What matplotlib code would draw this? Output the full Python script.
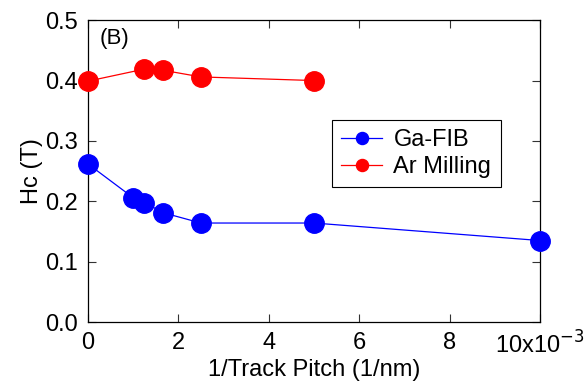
import matplotlib
matplotlib.use('Agg')
import matplotlib.pyplot as plt

plt.rcParams['font.family'] = ['Liberation Sans', 'DejaVu Sans']

# data
ga_x = [0, 1/1000, 1/800, 1/600, 1/400, 1/200, 1/100]
ga_hc = [0.262, 0.206, 0.198, 0.181, 0.164, 0.164, 0.135]
ar_x = [0, 1/800, 1/600, 1/400, 1/200]
ar_hc = [0.399, 0.419, 0.417, 0.406, 0.400]

xticks = [0, 0.002, 0.004, 0.006, 0.008, 0.010]
xticklabels = ['0', '2', '4', '6', '8', '10x10$^{\\mathrm{-3}}$']
yticks = [0.0, 0.1, 0.2, 0.3, 0.4, 0.5]

fig = plt.figure(figsize=(5.86, 3.88), dpi=100)
ax = fig.add_axes([0.150, 0.170, 0.7715, 0.778])

ax.plot(ga_x, ga_hc, '-o', color='#0000ff', lw=0.9, ms=14, label='Ga-FIB', clip_on=False, zorder=3)
ax.plot(ar_x, ar_hc, '-o', color='#ff0000', lw=0.9, ms=14, label='Ar Milling', clip_on=False, zorder=3)

ax.set_xlim(0, 0.010)
ax.set_ylim(0, 0.5)
ax.set_xticks(xticks)
ax.set_xticklabels(xticklabels)
ax.set_yticks(yticks)
ax.set_yticklabels(['%.1f' % v for v in yticks])
ax.tick_params(direction='in', length=6, width=0.8, labelsize=17, top=True, right=True, color='#333333', pad=7)
for s in ax.spines.values():
    s.set_linewidth(0.9)

ax.set_xlabel('1/Track Pitch (1/nm)', fontsize=17, labelpad=0)
ax.set_ylabel('Hc (T)', fontsize=17, labelpad=2)
ax.text(0.00025, 0.47, '(B)', fontsize=16, va='center')

leg = ax.legend(loc='upper left', bbox_to_anchor=(0.54, 0.67), fontsize=17, markerscale=0.62,
                fancybox=False, framealpha=1, edgecolor='black', borderpad=0.4,
                handlelength=1.7, handletextpad=0.5, labelspacing=0.2, borderaxespad=0)
leg.get_frame().set_linewidth(0.8)

fig.savefig('out.png', dpi=100)
